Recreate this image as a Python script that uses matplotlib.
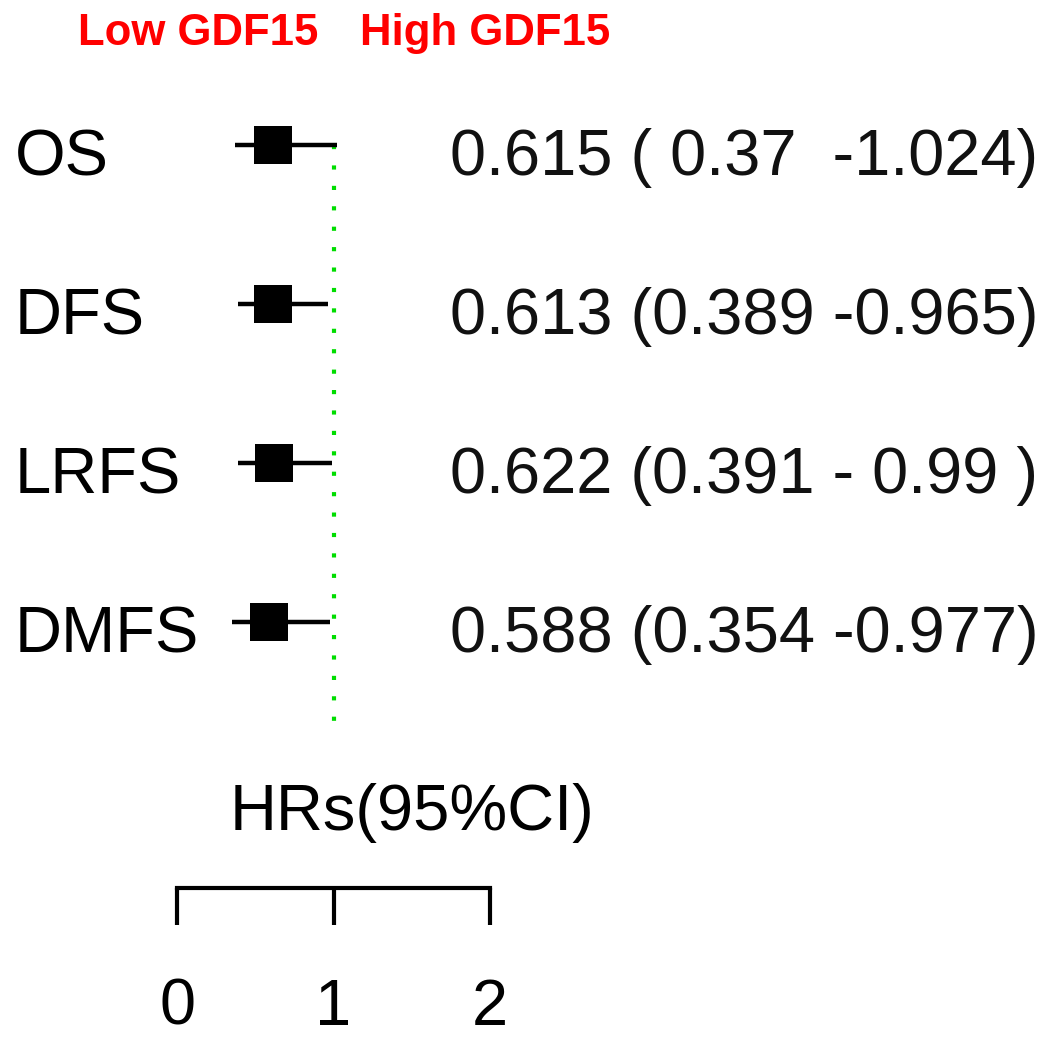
import matplotlib.pyplot as plt

# data
outcomes = ['OS', 'DFS', 'LRFS', 'DMFS']
hr = [0.615, 0.613, 0.622, 0.588]
lower = [0.37, 0.389, 0.391, 0.354]
upper = [1.024, 0.965, 0.99, 0.977]
hr_text = ['0.615 ( 0.37  -1.024)',
           '0.613 (0.389 -0.965)',
           '0.622 (0.391 - 0.99 )',
           '0.588 (0.354 -0.977)']
ticks = [0, 1, 2]

plt.rcParams['font.family'] = 'Liberation Sans'

fig = plt.figure(figsize=(10.63, 10.48), dpi=100)
ax = fig.add_axes([0, 0, 1, 1])

# 1 HR unit = 156.5 px, HR 0 at x=177 px; rows 159 px apart, first at y=145 px
ax.set_xlim(-177 / 156.5, (1063 - 177) / 156.5)
ax.set_ylim((1048 - 145) / 159, -145 / 159)

rows = list(range(len(outcomes)))

# reference line at HR = 1
ax.plot([1, 1], [0, 3.72], color='#00dd00', lw=3, linestyle=(0, (1, 3.9)),
        zorder=1)

# CIs and point estimates
ax.hlines(rows, lower, upper, color='black', lw=3.2, zorder=2)
ax.plot(hr, rows, linestyle='none', marker='s', markersize=28,
        markeredgewidth=0, color='black', zorder=3)

fs = 46.8
for i, (name, txt) in enumerate(zip(outcomes, hr_text)):
    ax.text(-1.035, i + 0.19, name, fontsize=fs, ha='left', va='baseline')
    ax.text(1.744, i + 0.19, txt, fontsize=fs, ha='left', va='baseline',
            color='#111111')

ax.text(0.905, -0.629, 'Low GDF15', color='red', fontsize=31.5,
        fontweight='bold', ha='right', va='baseline')
ax.text(1.17, -0.629, 'High GDF15', color='red', fontsize=31.5,
        fontweight='bold', ha='left', va='baseline')

ax.text(1.5, 4.308, 'HRs(95%CI)', fontsize=fs, ha='center', va='baseline')

# x axis drawn as a bottom spine in the middle of the canvas
for s in ['top', 'right', 'left']:
    ax.spines[s].set_visible(False)
ax.spines['bottom'].set_position(('data', 4.673))
ax.spines['bottom'].set_bounds(0, 2)
ax.spines['bottom'].set_linewidth(3)
ax.set_xticks(ticks)
ax.set_xticklabels([str(t) for t in ticks])
ax.tick_params(axis='x', direction='out', length=26.6, width=3, pad=38,
               labelsize=fs)
ax.set_yticks([])

fig.savefig('out.png', dpi=100, facecolor='white')
